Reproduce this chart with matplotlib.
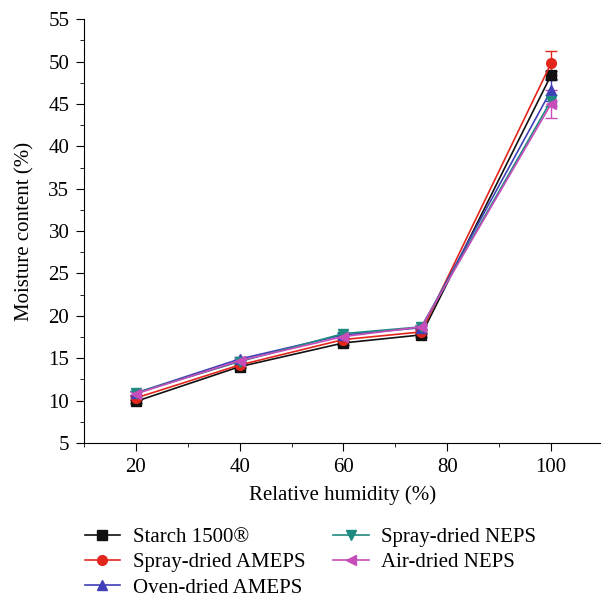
import matplotlib.pyplot as plt
from matplotlib.lines import Line2D
from matplotlib.ticker import MultipleLocator

plt.rcParams['font.family'] = ['Liberation Serif', 'DejaVu Serif']

rh = [20, 40, 60, 75, 100]

starch = [9.9, 14.0, 16.8, 17.75, 48.4]
starch_err = [0.2, 0.2, 0.2, 0.2, 0.5]
spray_ameps = [10.3, 14.2, 17.2, 18.1, 49.8]
spray_ameps_err = [0.2, 0.2, 0.2, 0.2, 1.4]
oven_ameps = [10.9, 14.9, 17.75, 18.6, 46.6]
oven_ameps_err = [0.2, 0.2, 0.2, 0.2, 1.2]
spray_neps = [10.9, 14.6, 17.9, 18.7, 45.4]
spray_neps_err = [0.2, 0.2, 0.2, 0.2, 0.6]
air_neps = [10.8, 14.7, 17.55, 18.7, 45.0]
air_neps_err = [0.2, 0.2, 0.2, 0.2, 1.6]

series = [
    ('Starch 1500\u00ae', starch, starch_err, '#111111', 's'),
    ('Spray-dried AMEPS', spray_ameps, spray_ameps_err, '#e3261c', 'o'),
    ('Oven-dried AMEPS', oven_ameps, oven_ameps_err, '#4040b8', '^'),
    ('Spray-dried NEPS', spray_neps, spray_neps_err, '#1e8a80', 'v'),
    ('Air-dried NEPS', air_neps, air_neps_err, '#c64dba', '<'),
]

fig = plt.figure(figsize=(6.04, 6.01), dpi=100)
ax = fig.add_axes([0.139, 0.263, 0.855, 0.705])

handles = []
for label, vals, err, color, marker in series:
    ax.errorbar(rh, vals, yerr=err, color=color, marker=marker, markersize=7,
                linewidth=1.2, capsize=4, elinewidth=1)
    handles.append(Line2D([], [], color=color, marker=marker, markersize=7,
                          linewidth=1.2))

ax.set_xlim(10, 109.5)
ax.set_ylim(5, 55)
ax.xaxis.set_major_locator(MultipleLocator(20))
ax.xaxis.set_minor_locator(MultipleLocator(10))
ax.yaxis.set_major_locator(MultipleLocator(5))
ax.yaxis.set_minor_locator(MultipleLocator(2.5))
ax.spines['top'].set_visible(False)
ax.spines['right'].set_visible(False)
ax.tick_params(which='both', direction='out', labelsize=15, pad=5)
ax.tick_params(which='major', length=5.5)
ax.tick_params(which='minor', length=3)

ax.set_xlabel('Relative humidity (%)', fontsize=15, labelpad=6)
ax.set_ylabel('Moisture content (%)', fontsize=15, labelpad=10)

fig.legend(handles, [s[0] for s in series],
           loc='upper left', bbox_to_anchor=(0.123, 0.14), ncol=2,
           frameon=False, fontsize=15, handlelength=1.7, handletextpad=0.6,
           columnspacing=1.35, labelspacing=0.28, borderpad=0)

fig.savefig('out.png', dpi=100)
